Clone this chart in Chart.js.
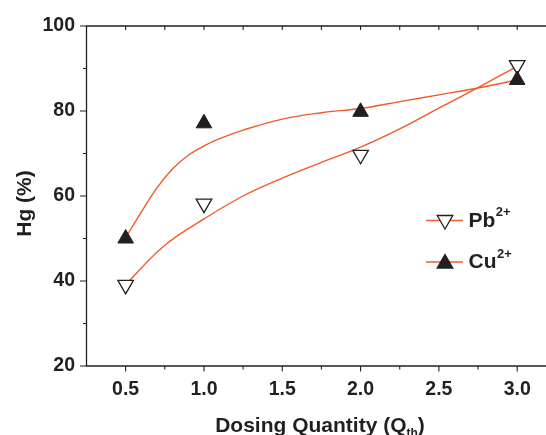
<!DOCTYPE html>
<html>
<head>
<meta charset="utf-8">
<script src="https://cdn.jsdelivr.net/npm/chart.js@4/dist/chart.umd.min.js"></script>
<style>
html,body{margin:0;padding:0;background:#fff;overflow:hidden;width:546px;height:435px;}
canvas{display:block;}
</style>
</head>
<body>
<canvas id="c" width="546" height="435" style="width:546px;height:435px"></canvas>
<script>
// ---- data ----
const doses = [0.5, 1.0, 2.0, 3.0];
const pbHg  = [39.1, 58.2, 69.7, 90.8];
const cuHg  = [50.0, 77.1, 79.8, 87.3];

// fitted curves
const pbFitX = [0.5, 0.75, 1.0, 1.25, 1.5, 1.75, 2.0, 2.25, 2.5, 2.75, 3.0];
const pbFitY = [39.2, 48.4, 54.6, 60.0, 64.2, 67.9, 71.5, 75.8, 80.7, 85.5, 90.5];
const cuFitX = [0.5, 0.6, 0.7, 0.8, 0.9, 1.0, 1.1, 1.25, 1.5, 1.75, 2.0, 2.25, 2.5, 2.75, 3.0];
const cuFitY = [50.2, 56.2, 61.9, 66.4, 69.6, 71.8, 73.5, 75.5, 78.1, 79.6, 80.6, 82.2, 83.8, 85.4, 87.3];

const xTicks = [0.5, 1.0, 1.5, 2.0, 2.5, 3.0];
const yTicks = [20, 40, 60, 80, 100];
const seriesNames = ['Pb', 'Cu'];
const xTitle = ['Dosing Quantity (Q', 'th', ')'];
const yTitle = 'Hg (%)';

const INK = '#231f20';
const FIT = '#f15a29';
const FONT = '"Liberation Sans", Arial, sans-serif';

const pts = (xs, ys) => xs.map((x, i) => ({x: x, y: ys[i]}));

const axesPlugin = {
  id: 'axesPlugin',
  afterDraw(chart) {
    const ctx = chart.ctx;
    const a = chart.chartArea;
    const xs = chart.scales.x, ys = chart.scales.y;
    ctx.save();
    ctx.strokeStyle = INK;
    ctx.lineWidth = 1.3;
    ctx.lineCap = 'butt';
    // axis lines
    ctx.beginPath();
    ctx.moveTo(a.left, a.top); ctx.lineTo(a.left, a.bottom);
    ctx.moveTo(a.left - 0.6, a.bottom); ctx.lineTo(a.right + 20, a.bottom);
    ctx.moveTo(a.left - 0.6, a.top); ctx.lineTo(a.right + 20, a.top);
    ctx.stroke();
    ctx.lineWidth = 1.1;
    ctx.beginPath();
    // y ticks
    for (let i = 0; i < yTicks.length; i++) {
      const py = ys.getPixelForValue(yTicks[i]);
      ctx.moveTo(a.left, py); ctx.lineTo(a.left - 6.5, py);
      if (i < yTicks.length - 1) {
        const pm = ys.getPixelForValue((yTicks[i] + yTicks[i + 1]) / 2);
        ctx.moveTo(a.left, pm); ctx.lineTo(a.left - 3.5, pm);
      }
    }
    // x ticks
    const half = (xTicks[1] - xTicks[0]) / 2;
    const allX = [];
    for (let v = xTicks[0] - half; v <= xTicks[xTicks.length - 1] + half + 1e-9; v += half) allX.push(+v.toFixed(4));
    allX.forEach(v => {
      const px = xs.getPixelForValue(v);
      const major = xTicks.some(t => Math.abs(t - v) < 1e-6);
      if (v > xs.min + 1e-6) {
        ctx.moveTo(px, a.bottom); ctx.lineTo(px, a.bottom + (major ? 5.5 : 3.5));
      }
      if (v >= xTicks[0] - 1e-6) {
        ctx.moveTo(px, a.top); ctx.lineTo(px, a.top + 4);
      }
    });
    ctx.stroke();

    // axis titles
    ctx.fillStyle = INK;
    ctx.textBaseline = 'alphabetic';
    ctx.font = 'bold 21px ' + FONT;
    const w0 = ctx.measureText(xTitle[0]).width;
    const w2 = ctx.measureText(xTitle[2]).width;
    ctx.font = 'bold 12px ' + FONT;
    const w1 = ctx.measureText(xTitle[1]).width;
    const total = w0 + w1 + w2;
    let tx = 320 - total / 2;
    const tb = 431.5;
    ctx.font = 'bold 21px ' + FONT;
    ctx.textAlign = 'left';
    ctx.fillText(xTitle[0], tx, tb);
    tx += w0;
    ctx.font = 'bold 12px ' + FONT;
    ctx.fillText(xTitle[1], tx, tb + 5);
    tx += w1;
    ctx.font = 'bold 21px ' + FONT;
    ctx.fillText(xTitle[2], tx, tb);

    ctx.save();
    ctx.translate(31, 203.5);
    ctx.rotate(-Math.PI / 2);
    ctx.textAlign = 'center';
    ctx.font = 'bold 21px ' + FONT;
    ctx.fillText(yTitle, 0, 0);
    ctx.restore();

    // legend
    const legendRows = [
      {name: seriesNames[0], y: 220.5, rot: 180, fill: '#ffffff'},
      {name: seriesNames[1], y: 262, rot: 0, fill: INK}
    ];
    legendRows.forEach(r => {
      ctx.strokeStyle = FIT;
      ctx.lineWidth = 1.3;
      ctx.beginPath();
      ctx.moveTo(426, r.y); ctx.lineTo(463, r.y);
      ctx.stroke();
      ctx.strokeStyle = INK;
      ctx.fillStyle = r.fill;
      ctx.lineWidth = 1.3;
      Chart.helpers.drawPoint(ctx, {pointStyle: 'triangle', radius: 9, rotation: r.rot, borderWidth: 1.3}, 445, r.y + (r.rot ? -0.5 : 1.5));
      ctx.fillStyle = INK;
      ctx.font = 'bold 21px ' + FONT;
      ctx.textAlign = 'left';
      ctx.fillText(r.name, 468.5, r.y + 6.3);
      const nw = ctx.measureText(r.name).width;
      ctx.font = 'bold 13px ' + FONT;
      ctx.fillText('2+', 468.5 + nw + 0.5, r.y - 4.5);
    });
    ctx.restore();
  }
};

new Chart(document.getElementById('c'), {
  type: 'scatter',
  data: {
    datasets: [
      {label: 'Cu2+', data: pts(doses, cuHg), pointStyle: 'triangle', pointRadius: 9, pointHoverRadius: 9,
       backgroundColor: INK, borderColor: INK, borderWidth: 1, showLine: false, order: 0},
      {label: 'Pb2+', data: pts(doses, pbHg), pointStyle: 'triangle', rotation: 180, pointRotation: 180,
       pointRadius: 9, pointHoverRadius: 9, backgroundColor: '#ffffff', borderColor: INK, borderWidth: 1.3,
       showLine: false, order: 1},
      {label: 'Pb fit', data: pts(pbFitX, pbFitY), showLine: true, pointRadius: 0, borderColor: FIT,
       borderWidth: 1.4, tension: 0.4, fill: false, order: 2},
      {label: 'Cu fit', data: pts(cuFitX, cuFitY), showLine: true, pointRadius: 0, borderColor: FIT,
       borderWidth: 1.4, tension: 0.4, fill: false, order: 3}
    ]
  },
  options: {
    responsive: false,
    animation: false,
    devicePixelRatio: 1,
    layout: {autoPadding: false, padding: {top: 26, left: 0, right: 0, bottom: 0}},
    plugins: {legend: {display: false}, tooltip: {enabled: false}},
    scales: {
      x: {
        type: 'linear', min: 0.25, max: 3.184,
        grid: {display: false, drawTicks: false, tickLength: 0}, border: {display: false},
        afterBuildTicks: s => { s.ticks = xTicks.map(v => ({value: v})); },
        afterFit: s => { s.height = 69; s.paddingLeft = 0; s.paddingRight = 0; },
        ticks: {color: INK, padding: 12, maxRotation: 0, autoSkip: false,
          font: {family: FONT, size: 19.5, weight: 'bold'},
          callback: v => Number(v).toFixed(1)}
      },
      y: {
        type: 'linear', min: 20, max: 100,
        grid: {display: false, drawTicks: false, tickLength: 0}, border: {display: false},
        afterBuildTicks: s => { s.ticks = yTicks.map(v => ({value: v})); },
        afterFit: s => { s.width = 86.5; s.paddingTop = 0; s.paddingBottom = 0; },
        ticks: {color: INK, padding: 11.5, autoSkip: false,
          font: {family: FONT, size: 19.5, weight: 'bold'}}
      }
    }
  },
  plugins: [axesPlugin]
});
</script>
</body>
</html>
